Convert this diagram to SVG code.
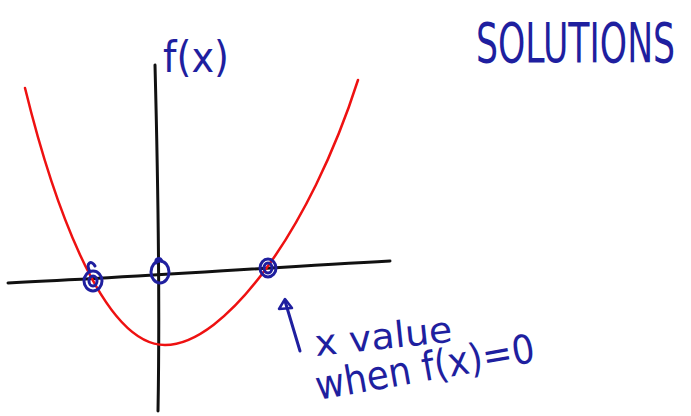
<svg xmlns="http://www.w3.org/2000/svg" width="691" height="416" viewBox="0 0 691 416">
<style>
.ax{fill:none;stroke:#111;stroke-width:3;stroke-linecap:round}
.curve{fill:none;stroke:#ee1111;stroke-width:2.5;stroke-linecap:round}
.ink{fill:none;stroke:#1f1f9f;stroke-width:3;stroke-linecap:round;stroke-linejoin:round}
.hand{font-family:"DejaVu Sans","Liberation Sans",sans-serif;fill:#1f1f9f}
</style>
<rect width="691" height="416" fill="#fff"/>
<g id="connectors">
<path class="ax" d="M8,283 C120,278 260,268 390,261"/>
<path class="ax" d="M155,65 C158,180 160,300 158,411"/>
<path class="curve" d="M25,88 C50,190 100,345 165,345 C225,345 310,230 358,80"/>
<path class="ink" d="M300,351 L285,301"/>
<path class="ink" d="M279,309 L285,299 L292,308 Z" style="stroke-width:2.5"/>
</g>
<g id="root-left"><path class="ink" d="M90,272 C85,262 92,260 95,266 M84,281 a9,10 0 1 0 18,0 a9,10 0 1 0 -18,0 M89,281 a4,5 0 1 0 8,0 a4,5 0 1 0 -8,0"/></g>
<g id="origin"><path class="ink" d="M151,272 a9,11 0 1 0 18,0 a9,11 0 1 0 -18,0 M156,263 C155,258 160,257 162,261"/></g>
<g id="root-right"><path class="ink" d="M260,268 a8,9 0 1 0 16,0 a8,9 0 1 0 -16,0 M264,268 a4,5 0 1 0 8,0 a4,5 0 1 0 -8,0"/></g>
<g id="fx-label"><text class="hand" x="163" y="72" font-size="42" textLength="66" lengthAdjust="spacingAndGlyphs">f(x)</text></g>
<g id="solutions"><text class="hand" transform="translate(476,62) scale(0.62,1)" x="0" y="0" font-size="56">SOLUTIONS</text></g>
<g id="note">
<text class="hand" x="316" y="356" font-size="36" transform="rotate(-6 316 356)" textLength="138" lengthAdjust="spacingAndGlyphs">x value</text>
<text class="hand" x="318" y="400" font-size="40" transform="rotate(-10 318 400)" textLength="222" lengthAdjust="spacingAndGlyphs">when f(x)=0</text>
</g>
</svg>
